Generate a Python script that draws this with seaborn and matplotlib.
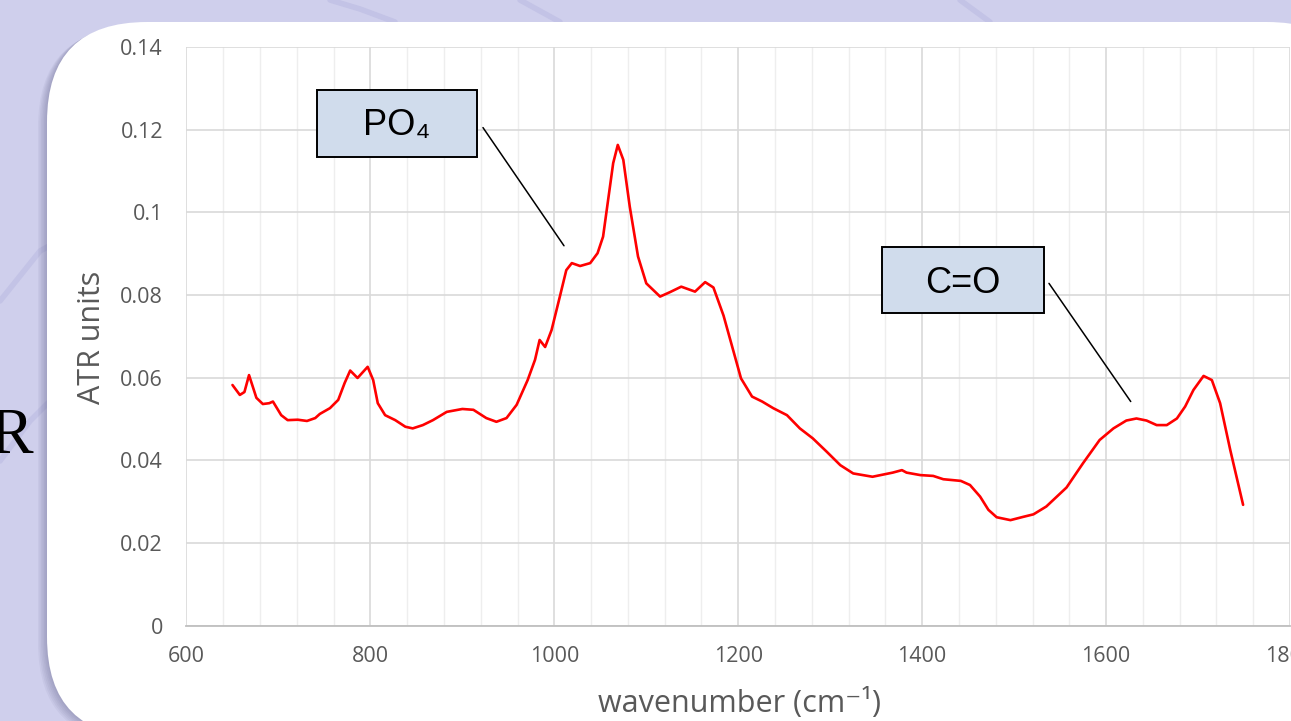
import numpy as np
import pandas as pd
import matplotlib.pyplot as plt
import seaborn as sns
from matplotlib.patches import FancyBboxPatch, Rectangle
from matplotlib.lines import Line2D
from matplotlib.transforms import IdentityTransform
from matplotlib.ticker import MultipleLocator, FuncFormatter

# spectrum
wavenumber = [650, 658, 663, 668, 676, 683, 690, 694, 703, 710, 721, 731, 740, 745,
              756, 765, 772, 778, 786, 797, 803, 808, 816, 827, 838, 846, 857, 868,
              883, 900, 912, 926, 937, 948, 959, 971, 979, 984, 990, 997, 1006, 1013,
              1019, 1028, 1039, 1047, 1053, 1058, 1064, 1069, 1075, 1082, 1091, 1100,
              1115, 1126, 1138, 1153, 1164, 1173, 1184, 1194, 1203, 1215, 1226, 1238,
              1253, 1267, 1281, 1296, 1311, 1325, 1346, 1368, 1378, 1383, 1398, 1412,
              1423, 1442, 1452, 1463, 1472, 1481, 1496, 1510, 1521, 1535, 1557, 1575,
              1593, 1608, 1622, 1633, 1644, 1655, 1666, 1677, 1686, 1695, 1706, 1715,
              1724, 1735, 1749]
atr = [0.0582, 0.0558, 0.0565, 0.0606, 0.0551, 0.0536, 0.0538, 0.0542, 0.0509, 0.0497,
       0.0498, 0.0495, 0.0502, 0.0512, 0.0526, 0.0546, 0.0587, 0.0617, 0.0599, 0.0626,
       0.0594, 0.0538, 0.0509, 0.0497, 0.0481, 0.0477, 0.0485, 0.0497, 0.0517, 0.0524,
       0.0522, 0.0502, 0.0493, 0.0502, 0.0534, 0.0594, 0.0643, 0.0691, 0.0674, 0.0715,
       0.0796, 0.0860, 0.0877, 0.0870, 0.0877, 0.0901, 0.0941, 0.1022, 0.1119, 0.1163,
       0.1127, 0.1014, 0.0893, 0.0828, 0.0796, 0.0807, 0.0820, 0.0808, 0.0831, 0.0818,
       0.0750, 0.0670, 0.0598, 0.0554, 0.0542, 0.0526, 0.0509, 0.0477, 0.0453, 0.0421,
       0.0388, 0.0368, 0.0360, 0.0370, 0.0376, 0.0370, 0.0364, 0.0362, 0.0354, 0.0350,
       0.0340, 0.0312, 0.0280, 0.0262, 0.0255, 0.0263, 0.0269, 0.0288, 0.0334, 0.0393,
       0.0449, 0.0477, 0.0496, 0.0501, 0.0496, 0.0485, 0.0485, 0.0501, 0.0530, 0.0570,
       0.0604, 0.0594, 0.0538, 0.0425, 0.0292]

labels = ["PO₄", "C=O"]

df = pd.DataFrame({"wavenumber": wavenumber, "atr": atr})

sns.set_style("white")
plt.rcParams["font.family"] = ["Open Sans", "DejaVu Sans"]

fig = plt.figure(figsize=(12.91, 7.21), dpi=100, facecolor="#CFCFEC")
px = IdentityTransform()

# faint decorative strokes on the slide background
for xs, ys in [([330, 360, 395], [721, 712, 699]),
               ([520, 540, 560], [721, 710, 699]),
               ([960, 975, 990], [721, 710, 699]),
               ([0, 40, 95], [420, 470, 500]),
               ([0, 30, 60], [260, 300, 330])]:
    fig.lines.append(Line2D(xs, ys, transform=px, color="#C3C3E6", lw=4, zorder=0))

# slide panel with soft shadow
for i in range(6):
    off = 1.5 + i * 1.5
    fig.patches.append(FancyBboxPatch((47 - off, -16 - off * 0.6), 1320, 715,
                                      boxstyle="round,pad=0,rounding_size=100",
                                      transform=px, fc="#3a3a66", ec="none",
                                      alpha=0.05, zorder=1))
fig.patches.append(FancyBboxPatch((47, -16), 1320, 715,
                                  boxstyle="round,pad=0,rounding_size=100",
                                  transform=px, fc="white", ec="none", zorder=2))

fig.text(33 / 1291, 268 / 721, "R", ha="right", va="baseline", fontsize=47,
         family="Liberation Serif", color="black")

ax = fig.add_axes([0.14446, 0.13245, 0.85477, 0.80236])
ax.set_facecolor("white")
ax.set_zorder(3)

sns.lineplot(data=df, x="wavenumber", y="atr", ax=ax, color="#FF0000", lw=1.9, zorder=4)

ax.set_xlim(600, 1800)
ax.set_ylim(0, 0.14)
ax.xaxis.set_major_locator(MultipleLocator(200))
ax.xaxis.set_minor_locator(MultipleLocator(40))
ax.yaxis.set_major_locator(MultipleLocator(0.02))
ax.yaxis.set_major_formatter(FuncFormatter(lambda v, p: "0" if abs(v) < 1e-9 else f"{v:g}"))
ax.grid(which="major", axis="both", color="#D9D9D9", lw=1.2, zorder=0)
ax.grid(which="minor", axis="x", color="#EEEEEE", lw=1.0, zorder=0)
ax.set_axisbelow(True)
for s in ["top", "right", "left"]:
    ax.spines[s].set_visible(False)
ax.spines["bottom"].set_color("#BFBFBF")
ax.spines["bottom"].set_linewidth(1.3)
ax.tick_params(which="both", length=0, labelsize=15.5, labelcolor="#595959")
ax.tick_params(axis="y", pad=17)
ax.tick_params(axis="x", pad=15)

ax.set_xlabel("wavenumber (cm⁻¹)", fontsize=22, color="#595959", va="center")
ax.xaxis.set_label_coords(0.5007, -0.134)
ax.set_ylabel("ATR units", fontsize=22, color="#595959", va="center")
ax.yaxis.set_label_coords(-0.0856, 0.498)

# callout boxes with leader lines
boxes = [(741.6, 0.1135, 174.3, 0.0161), (1356.3, 0.0756, 176.2, 0.0160)]
text_pos = [(828.7, 0.1187), (1444.4, 0.0804)]
leaders = [((922.4, 0.1205), (1010.5, 0.0919)), ((1537.9, 0.0828), (1626.8, 0.0542))]
for lab, (bx, by, bw, bh), (tx, ty), (p0, p1) in zip(labels, boxes, text_pos, leaders):
    ax.add_patch(Rectangle((bx, by), bw, bh, fc="#D0DCEC", ec="black", lw=1.4, zorder=5))
    ax.text(tx, ty, lab, ha="center", va="baseline", fontsize=26,
            family=["Liberation Sans", "DejaVu Sans"], color="black", zorder=6)
    ax.plot([p0[0], p1[0]], [p0[1], p1[1]], color="black", lw=1.1, zorder=5)

fig.savefig("out.png", dpi=100, facecolor=fig.get_facecolor())
